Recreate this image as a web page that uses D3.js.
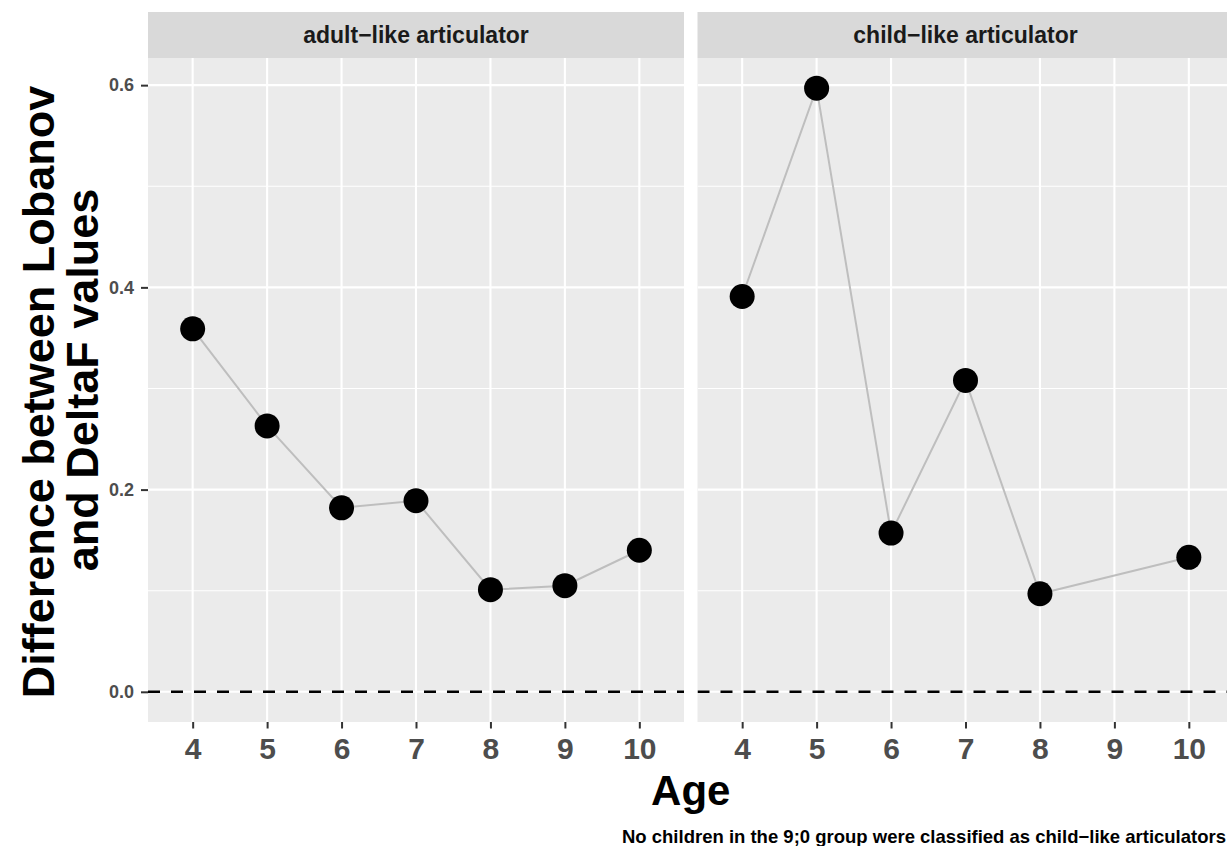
<!DOCTYPE html>
<html>
<head>
<meta charset="utf-8">
<script src="https://cdn.jsdelivr.net/npm/d3@7"></script>
<style>
html,body{margin:0;padding:0;background:#fff;}
svg text{font-family:"Liberation Sans",Arial,Helvetica,sans-serif;font-weight:bold;}
</style>
</head>
<body>
<svg id="chart" width="1227" height="846"></svg>
<script>
// ---- data ----
const ages = [4, 5, 6, 7, 8, 9, 10];
const panelNames = ["adult\u2212like articulator", "child\u2212like articulator"];
const adultAges = [4, 5, 6, 7, 8, 9, 10];
const adultDiff = [0.359, 0.263, 0.182, 0.189, 0.101, 0.105, 0.140];
const childAges = [4, 5, 6, 7, 8, 10];
const childDiff = [0.391, 0.597, 0.157, 0.308, 0.097, 0.133];
const yTicks = [0.0, 0.2, 0.4, 0.6];
const yMinor = [0.1, 0.3, 0.5];
const yTitleLines = ["Difference between Lobanov", "and DeltaF values"];
const xTitle = "Age";
const caption = "No children in the 9;0 group were classified as child\u2212like articulators";

const svg = d3.select("#chart");
const pTop = 58, pBottom = 722, stripTop = 12;
const panelX = [[148, 684], [697.5, 1233.5]];
const series = [
  adultAges.map((a, i) => ({age: a, v: adultDiff[i]})),
  childAges.map((a, i) => ({age: a, v: childDiff[i]}))
];

const allV = adultDiff.concat(childDiff, [0]);
const lo = d3.min(allV), hi = d3.max(allV), pad = (hi - lo) * 0.05;
const y = d3.scaleLinear().domain([lo - pad, hi + pad]).range([pBottom, pTop]);

const defs = svg.append("defs");

panelX.forEach((px, pi) => {
  const x = d3.scalePoint().domain(ages).range(px).padding(0.6);
  const g = svg.append("g");
  const cid = "clip" + pi;
  defs.append("clipPath").attr("id", cid).append("rect")
    .attr("x", px[0]).attr("y", pTop).attr("width", px[1] - px[0]).attr("height", pBottom - pTop);

  // strip
  g.append("rect").attr("x", px[0]).attr("y", stripTop).attr("width", px[1] - px[0])
    .attr("height", pTop - stripTop).attr("fill", "#d9d9d9");
  g.append("text").attr("x", (px[0] + px[1]) / 2).attr("y", 43)
    .attr("text-anchor", "middle").attr("font-size", 23).attr("fill", "#1a1a1a")
    .text(panelNames[pi]);

  // panel
  g.append("rect").attr("x", px[0]).attr("y", pTop).attr("width", px[1] - px[0])
    .attr("height", pBottom - pTop).attr("fill", "#ebebeb");
  const inner = g.append("g").attr("clip-path", `url(#${cid})`);
  inner.selectAll(".ymin").data(yMinor).join("line")
    .attr("x1", px[0]).attr("x2", px[1]).attr("y1", d => y(d)).attr("y2", d => y(d))
    .attr("stroke", "#fff").attr("stroke-width", 1.1);
  inner.selectAll(".ymaj").data(yTicks).join("line")
    .attr("x1", px[0]).attr("x2", px[1]).attr("y1", d => y(d)).attr("y2", d => y(d))
    .attr("stroke", "#fff").attr("stroke-width", 2.1);
  inner.selectAll(".xmaj").data(ages).join("line")
    .attr("x1", d => x(d)).attr("x2", d => x(d)).attr("y1", pTop).attr("y2", pBottom)
    .attr("stroke", "#fff").attr("stroke-width", 2.1);

  // reference line at 0
  inner.append("line").attr("x1", px[0]).attr("x2", px[1]).attr("y1", y(0)).attr("y2", y(0))
    .attr("stroke", "#000").attr("stroke-width", 2.6).attr("stroke-dasharray", "12,11");

  // data line + points
  const line = d3.line().x(d => x(d.age)).y(d => y(d.v));
  inner.append("path").datum(series[pi]).attr("d", line)
    .attr("fill", "none").attr("stroke", "#bebebe").attr("stroke-width", 2);
  inner.selectAll(".pt").data(series[pi]).join("circle")
    .attr("cx", d => x(d.age)).attr("cy", d => y(d.v)).attr("r", 12.5).attr("fill", "#000");

  // x axis
  const xa = g.append("g").attr("transform", `translate(0,${pBottom})`)
    .call(d3.axisBottom(x).tickSize(6.5).tickPadding(8));
  xa.select(".domain").remove();
  xa.selectAll(".tick line").attr("stroke", "#333").attr("stroke-width", 2);
  xa.selectAll(".tick text").attr("font-size", 30).attr("fill", "#4d4d4d")
    .attr("dy", null).attr("y", 37);

  if (pi === 0) {
    const ya = g.append("g").attr("transform", `translate(${px[0]},0)`)
      .call(d3.axisLeft(y).tickValues(yTicks).tickFormat(d3.format(".1f")).tickSize(7).tickPadding(7));
    ya.select(".domain").remove();
    ya.selectAll(".tick line").attr("stroke", "#333").attr("stroke-width", 2);
    ya.selectAll(".tick text").attr("font-size", 18).attr("fill", "#4d4d4d");
  }
});

// axis titles
svg.append("text").attr("x", (panelX[0][0] + panelX[1][1]) / 2).attr("y", 805)
  .attr("text-anchor", "middle").attr("font-size", 42).attr("fill", "#000").text(xTitle);
const yt = svg.append("text").attr("transform", `translate(0,${(pTop + pBottom) / 2}) rotate(-90)`)
  .attr("text-anchor", "middle").attr("font-size", 45).attr("fill", "#000");
yTitleLines.forEach((t, i) => {
  yt.append("tspan").attr("x", i === 0 ? -2 : 10).attr("y", 54 + i * 44).text(t);
});

svg.append("text").attr("x", 1226).attr("y", 843).attr("text-anchor", "end")
  .attr("font-size", 18.5).attr("fill", "#000").text(caption);
</script>
</body>
</html>
